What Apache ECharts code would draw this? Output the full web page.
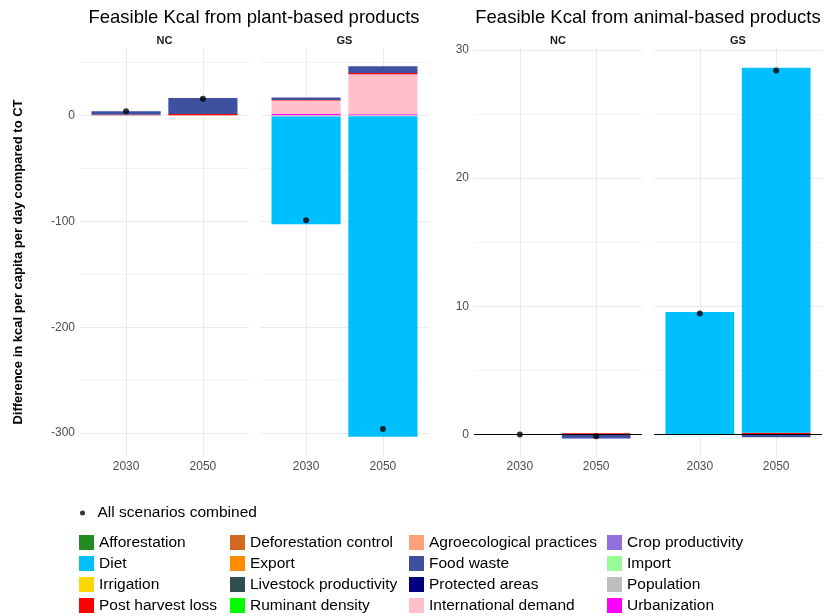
<!DOCTYPE html>
<html><head><meta charset="utf-8">
<script src="https://cdn.jsdelivr.net/npm/echarts@6/dist/echarts.min.js"></script>
<style>html,body{margin:0;padding:0;background:#fff}#c{width:824px;height:616px}</style>
</head><body><div id="c"></div>
<script>
// ---------- DATA ----------
const years = ['2030', '2050'];
const facets = ['NC', 'GS'];
const panelTitles = ['Feasible Kcal from plant-based products', 'Feasible Kcal from animal-based products'];
const yAxisTitle = 'Difference in kcal per capita per day compared to CT';
const combinedName = 'All scenarios combined';

// value order in every array:
// [plant NC 2030, plant NC 2050, plant GS 2030, plant GS 2050,
//  animal NC 2030, animal NC 2050, animal GS 2030, animal GS 2050]
const urbanization          = [0,   0,    1.2,   1.0,    0, 0,     0,    0];
const population            = [0,   0,   -1.2,  -1.0,    0, 0,     0,    0];
const internationalDemand   = [0,   0,   12.8,  37.7,    0, 0,     0,    0];
const postHarvestLoss       = [0.5, 1.2,  0.4,   1.2,    0, 0.1,   0,    0.15];
const diet                  = [0,   0, -101.6, -302.5,   0, 0,     9.55, 28.45];
const foodWaste             = [3.3, 15.1, 2.3,   6.3,    0, -0.3,  0,   -0.2];
const afforestation         = [0, 0, 0, 0, 0, 0, 0, 0];
const deforestationControl  = [0, 0, 0, 0, 0, 0, 0, 0];
const agroecological        = [0, 0, 0, 0, 0, 0, 0, 0];
const cropProductivity      = [0, 0, 0, 0, 0, 0, 0, 0];
const exportVals            = [0, 0, 0, 0, 0, 0, 0, 0];
const importVals            = [0, 0, 0, 0, 0, 0, 0, 0];
const irrigation            = [0, 0, 0, 0, 0, 0, 0, 0];
const livestockProductivity = [0, 0, 0, 0, 0, 0, 0, 0];
const protectedAreas        = [0, 0, 0, 0, 0, 0, 0, 0];
const ruminantDensity       = [0, 0, 0, 0, 0, 0, 0, 0];
const combined              = [3.8, 15.7, -99, -296, 0, -0.13, 9.45, 28.4];

const plantTicks = [-300, -200, -100, 0];
const plantMinorTicks = [-250, -150, -50, 50];
const plantRange = [-322.5, 63.5];
const animalTicks = [0, 10, 20, 30];
const animalMinorTicks = [5, 15, 25];
const animalRange = [-1.75, 30.15];

// stacking order (first = nearest zero)
const stackSeries = [
  ['Urbanization', urbanization],
  ['Population', population],
  ['International demand', internationalDemand],
  ['Post harvest loss', postHarvestLoss],
  ['Diet', diet],
  ['Food waste', foodWaste],
  ['Afforestation', afforestation],
  ['Deforestation control', deforestationControl],
  ['Agroecological practices', agroecological],
  ['Crop productivity', cropProductivity],
  ['Export', exportVals],
  ['Import', importVals],
  ['Irrigation', irrigation],
  ['Livestock productivity', livestockProductivity],
  ['Protected areas', protectedAreas],
  ['Ruminant density', ruminantDensity]
];
const legendColumns = [
  ['Afforestation', 'Diet', 'Irrigation', 'Post harvest loss'],
  ['Deforestation control', 'Export', 'Livestock productivity', 'Ruminant density'],
  ['Agroecological practices', 'Food waste', 'Protected areas', 'International demand'],
  ['Crop productivity', 'Import', 'Population', 'Urbanization']
];

// ---------- STYLE ----------
const colors = {
  'Afforestation': '#228B22', 'Deforestation control': '#D2691E',
  'Agroecological practices': '#FFA07A', 'Crop productivity': '#9370DB',
  'Diet': '#00BFFF', 'Export': '#FF8C00', 'Food waste': '#4050A0',
  'Import': '#98FB98', 'Irrigation': '#FFD700', 'Livestock productivity': '#2F4F4F',
  'Protected areas': '#000080', 'Population': '#BEBEBE', 'Post harvest loss': '#FF0000',
  'Ruminant density': '#00FF00', 'International demand': '#FFC0CB', 'Urbanization': '#FF00FF'
};
const FONT = "'Liberation Sans', Arial, sans-serif";
const gridLefts = [80, 260, 474, 654];
const gridWidths = [169, 169, 168, 168];
const gridTop = 48, gridHeight = 409;
const legendLefts = [79, 230, 409, 607];

const grids = [], xAxes = [], yAxes = [], series = [], titles = [];
const xPos = years.map((_, i) => i + 1);
const X_MIN = 0.4, X_MAX = 2.6;

// background grids (0..3): gridlines, y labels, dots
for (let g = 0; g < 4; g++) {
  grids.push({left: gridLefts[g], top: gridTop, width: gridWidths[g], height: gridHeight});
}
// bar grids (4..7): category axis narrower so category centres match the facet layout
for (let g = 0; g < 4; g++) {
  const w = gridWidths[g] / (X_MAX - X_MIN) * 2;
  const l = gridLefts[g] + (1 - X_MIN) / (X_MAX - X_MIN) * gridWidths[g] - w / 4;
  grids.push({left: l, top: gridTop, width: w, height: gridHeight});
}
// xAxes 0..3 value (background), 4..7 category (bars)
for (let g = 0; g < 4; g++) {
  xAxes.push({
    type: 'value', gridIndex: g, min: X_MIN, max: X_MAX,
    axisLine: {show: false}, axisTick: {show: false, customValues: xPos},
    axisLabel: {show: false, customValues: xPos},
    splitLine: {show: true, lineStyle: {color: '#EBEBEB', width: 1}}
  });
}
for (let g = 0; g < 4; g++) {
  xAxes.push({
    type: 'category', gridIndex: 4 + g, data: years,
    axisLine: {show: false}, axisTick: {show: false},
    axisLabel: {color: '#4D4D4D', fontSize: 12, fontFamily: FONT, margin: 4},
    splitLine: {show: false}
  });
}
// yAxes 0..3 major (background), 4..7 minor (background), 8..11 bar grids
const rangeOf = g => (g < 2 ? plantRange : animalRange);
for (let g = 0; g < 4; g++) {
  const ticks = g < 2 ? plantTicks : animalTicks;
  yAxes.push({
    type: 'value', gridIndex: g, min: rangeOf(g)[0], max: rangeOf(g)[1],
    axisLine: {show: false}, axisTick: {show: false, customValues: ticks},
    axisLabel: {show: g % 2 === 0, customValues: ticks, color: '#4D4D4D', fontSize: 12, fontFamily: FONT, margin: 5},
    splitLine: {show: true, lineStyle: {color: '#EBEBEB', width: 1}}
  });
}
for (let g = 0; g < 4; g++) {
  const minor = g < 2 ? plantMinorTicks : animalMinorTicks;
  yAxes.push({
    type: 'value', gridIndex: g, min: rangeOf(g)[0], max: rangeOf(g)[1], position: 'right',
    axisLine: {show: false}, axisTick: {show: false, customValues: minor},
    axisLabel: {show: false, customValues: minor},
    splitLine: {show: true, lineStyle: {color: '#F3F3F3', width: 1}}
  });
}
for (let g = 0; g < 4; g++) {
  yAxes.push({
    type: 'value', gridIndex: 4 + g, min: rangeOf(g)[0], max: rangeOf(g)[1],
    axisLine: {show: false}, axisTick: {show: false}, axisLabel: {show: false},
    splitLine: {show: false}
  });
}

for (let g = 0; g < 4; g++) {
  stackSeries.forEach(([name, arr]) => {
    series.push({
      type: 'bar', name, xAxisIndex: 4 + g, yAxisIndex: 8 + g, stack: 'st' + g,
      barWidth: '90%', itemStyle: {color: colors[name]},
      data: years.map((_, i) => arr[g * 2 + i])
    });
  });
  const dot = {
    type: 'scatter', name: combinedName, xAxisIndex: g, yAxisIndex: g, z: 5,
    symbol: 'circle', symbolSize: 6, itemStyle: {color: '#000'},
    data: xPos.map((x, i) => [x, combined[g * 2 + i]])
  };
  if (g >= 2) {
    dot.markLine = {silent: true, symbol: 'none', label: {show: false}, animation: false,
      lineStyle: {color: '#000', width: 1, type: 'solid'}, data: [{yAxis: 0}]};
  }
  series.push(dot);
  titles.push({text: facets[g % 2], left: gridLefts[g] + gridWidths[g] / 2, top: 35.5, textAlign: 'center', padding: 0,
    textStyle: {fontSize: 11, fontWeight: 'bold', color: '#1A1A1A', fontFamily: FONT}});
}
titles.push({text: panelTitles[0], left: 254, top: 8, textAlign: 'center', padding: 0,
  textStyle: {fontSize: 18.5, fontWeight: 'normal', color: '#000', fontFamily: FONT}});
titles.push({text: panelTitles[1], left: 648, top: 8, textAlign: 'center', padding: 0,
  textStyle: {fontSize: 18.5, fontWeight: 'normal', color: '#000', fontFamily: FONT}});

const legends = [{
  data: [combinedName], left: 80, top: 505, orient: 'vertical', icon: 'circle', padding: 0,
  itemWidth: 20, itemHeight: 5, selectedMode: false,
  textStyle: {fontSize: 15.5, color: '#000', fontFamily: FONT, lineHeight: 15}
}];
legendColumns.forEach((col, i) => {
  legends.push({
    data: col, left: legendLefts[i], top: 534.5, orient: 'vertical', icon: 'rect', padding: 0,
    itemWidth: 15, itemHeight: 15, itemGap: 5, selectedMode: false,
    textStyle: {fontSize: 15.5, color: '#000', fontFamily: FONT, lineHeight: 15}
  });
});

const chart = echarts.init(document.getElementById('c'), null, {renderer: 'canvas'});
chart.setOption({
  animation: false,
  backgroundColor: '#fff',
  title: titles,
  grid: grids, xAxis: xAxes, yAxis: yAxes,
  legend: legends,
  series,
  graphic: [{
    type: 'text', x: 18, y: 262, rotation: Math.PI / 2,
    style: {text: yAxisTitle, textAlign: 'center', textVerticalAlign: 'middle',
      font: "bold 13px 'Liberation Sans', Arial, sans-serif", fill: '#000'}
  }]
});
</script></body></html>
